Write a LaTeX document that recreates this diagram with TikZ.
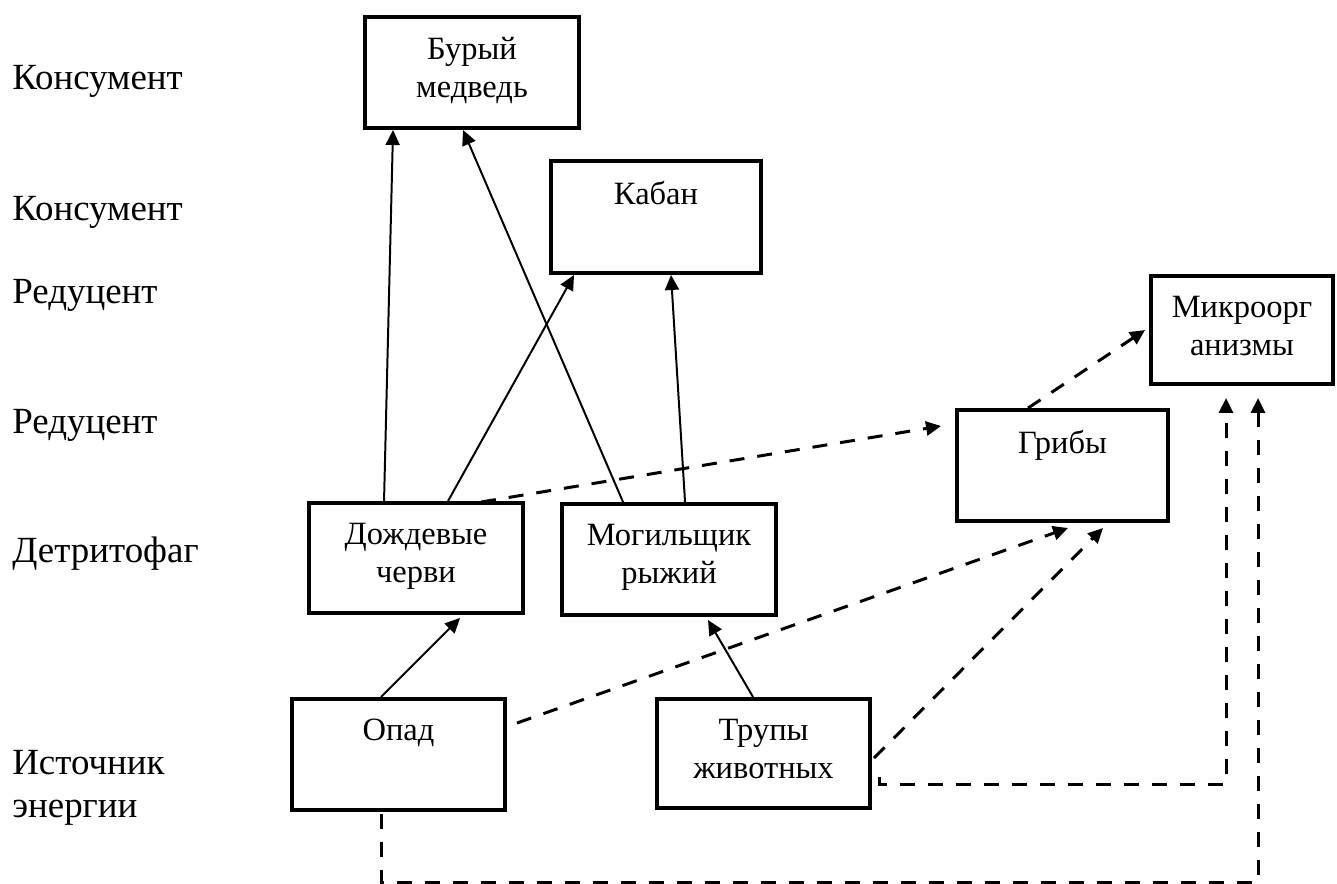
\documentclass[tikz,border=0pt]{standalone}
\usepackage{fontspec}
\setmainfont{Liberation Serif}
\usetikzlibrary{arrows.meta,calc}
\begin{document}
\begin{tikzpicture}[x=0.02cm,y=-0.02cm,
  box/.style={draw,line width=2.27pt,inner sep=0pt,minimum width=4.28cm,minimum height=2.22cm},
  lbl/.style={font=\fontsize{18.5}{21.4}\selectfont,align=center,inner sep=0pt,anchor=north},
  side/.style={font=\fontsize{21}{24.4}\selectfont,align=left,inner sep=0pt,anchor=base west},
  arr/.style={line width=1.13pt,-{Triangle[length=0.3cm,width=0.28cm]}},
  darr/.style={line width=1.7pt,dash pattern=on 0.3cm off 0.26cm,-{Triangle[length=0.3cm,width=0.28cm]}}]
\useasboundingbox (0,0) rectangle (1337,883);

% boxes
\node[box] (medv) at (472,72.5) {};
\node[box,minimum width=4.2cm,minimum height=2.24cm] (kaban) at (656,217) {};
\node[box,minimum width=3.64cm,minimum height=2.16cm] (mikro) at (1242,330) {};
\node[box,minimum width=4.22cm] (griby) at (1062.5,465.5) {};
\node[box,minimum height=2.2cm] (cherv) at (416,558) {};
\node[box] (mogil) at (669,559.5) {};
\node[box,minimum width=4.26cm] (opad) at (398.5,754.5) {};
\node[box,minimum width=4.26cm,minimum height=2.18cm] (trupy) at (763.5,753.5) {};

% box texts
\node[lbl] (tmedv) at ($(medv.north)+(0,22)$) {Бурый\\медведь};
\node[lbl] (tkaban) at ($(kaban.north)+(0,22)$) {Кабан};
\node[lbl] (tmikro) at ($(mikro.north)+(0,22)$) {Микроорг\\анизмы};
\node[lbl] (tgriby) at ($(griby.north)+(0,22)$) {Грибы};
\node[lbl] (tcherv) at ($(cherv.north)+(0,22)$) {Дождевые\\черви};
\node[lbl] (tmogil) at ($(mogil.north)+(0,22)$) {Могильщик\\рыжий};
\node[lbl] (topad) at ($(opad.north)+(0,22)$) {Опад};
\node[lbl] (ttrupy) at ($(trupy.north)+(0,22)$) {Трупы\\животных};

% side labels
\node[side] (s1) at (12,89) {Консумент};
\node[side] (s2) at (12,220) {Консумент};
\node[side] (s3) at (12,303) {Редуцент};
\node[side] (s4) at (12,433) {Редуцент};
\node[side] (s5) at (12,562) {Детритофаг};
\node[side,anchor=north west] (s6) at (12,750) {Источник\\энергии};

% solid connectors
\draw[arr] ($(cherv.north west)+(77,0)$) -- ($(medv.south west)+(30,0)$);
\draw[arr] ($(cherv.north west)+(141,0)$) -- ($(kaban.south west)+(25,0)$);
\draw[arr] ($(mogil.north west)+(63,0)$) -- ($(medv.south west)+(100,0)$);
\draw[arr] ($(mogil.north west)+(125,0)$) -- ($(kaban.south west)+(122,0)$);
\draw[arr] ($(opad.north west)+(91,0)$) -- ($(cherv.south west)+(153,3)$);
\draw[arr] ($(trupy.north west)+(98,0)$) -- ($(mogil.south west)+(148,3)$);

% dashed connectors
\draw[darr] ($(cherv.north west)+(174,1)$) -- ($(griby.west)+(-14,-39.5)$);
\draw[darr] ($(griby.north west)+(73,0)$) -- ($(mikro.west)+(-4,0)$);
\draw[darr] ($(opad.east)+(10,-31.5)$) -- ($(griby.south west)+(113,5)$);
\draw[darr] ($(trupy.east)+(2,4.5)$) -- ($(griby.south west)+(148,5)$);
\draw[darr] ($(trupy.east)+(8,23)$) -- ++(0,7.5) -| ($(mikro.south west)+(77,12)$);
\coordinate (bot) at (0,882);
\draw[darr] ($(opad.south west)+(91,2)$) coordinate (ob) -- (ob |- bot) -| ($(mikro.south west)+(109,12)$);
\end{tikzpicture}
\end{document}
